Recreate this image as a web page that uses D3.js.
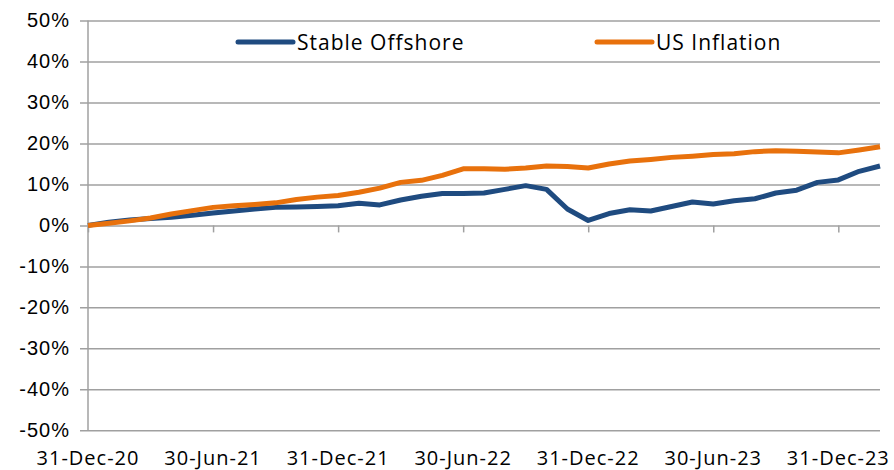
<!DOCTYPE html>
<html>
<head>
<meta charset="utf-8">
<script src="https://cdn.jsdelivr.net/npm/d3@7"></script>
<style>
  body { margin: 0; background: #fff; }
  svg { display: block; font-family: "Open Sans", "Noto Sans", sans-serif; }
</style>
</head>
<body>
<div id="chart"></div>
<script>
// Month-end categories, Dec-20 .. Feb-24
const months = [
    'Dec-20', 'Jan-21', 'Feb-21', 'Mar-21', 'Apr-21', 'May-21', 'Jun-21', 'Jul-21', 'Aug-21', 'Sep-21',
    'Oct-21', 'Nov-21', 'Dec-21', 'Jan-22', 'Feb-22', 'Mar-22', 'Apr-22', 'May-22', 'Jun-22', 'Jul-22',
    'Aug-22', 'Sep-22', 'Oct-22', 'Nov-22', 'Dec-22', 'Jan-23', 'Feb-23', 'Mar-23', 'Apr-23', 'May-23',
    'Jun-23', 'Jul-23', 'Aug-23', 'Sep-23', 'Oct-23', 'Nov-23', 'Dec-23', 'Jan-24', 'Feb-24'
];

// Cumulative returns, %
const stableOffshore = [
    0.0, 0.8, 1.3, 1.7, 2.0, 2.5, 3.0, 3.5, 4.0, 4.4,
    4.5, 4.6, 4.8, 5.4, 5.0, 6.2, 7.1, 7.8, 7.8, 7.9,
    8.8, 9.7, 8.8, 4.0, 1.2, 2.9, 3.8, 3.5, 4.6, 5.7,
    5.2, 6.0, 6.5, 7.9, 8.6, 10.5, 11.1, 13.2, 14.5
];
const usInflation = [
    0.0, 0.5, 1.1, 1.8, 2.8, 3.6, 4.4, 4.8, 5.1, 5.5,
    6.3, 6.9, 7.3, 8.1, 9.1, 10.5, 11.0, 12.2, 13.8, 13.8,
    13.7, 14.0, 14.5, 14.4, 14.0, 15.0, 15.7, 16.1, 16.6, 16.9,
    17.3, 17.5, 18.0, 18.2, 18.1, 17.9, 17.7, 18.4, 19.2
];

const tickMonths = ['Dec-20', 'Jun-21', 'Dec-21', 'Jun-22', 'Dec-22', 'Jun-23', 'Dec-23'];
const tickLabels = ['31-Dec-20', '30-Jun-21', '31-Dec-21', '30-Jun-22', '31-Dec-22', '30-Jun-23', '31-Dec-23'];
const yTicks = [-50, -40, -30, -20, -10, 0, 10, 20, 30, 40, 50];

const series = [
    { name: 'Stable Offshore', values: stableOffshore, color: '#1f4b80' },
    { name: 'US Inflation', values: usInflation, color: '#e8710c' }
];

const W = 894, H = 470;
const plot = { left: 88, right: 880, top: 20.5, bottom: 430.3 };
const GRID = '#a0a0a0';

const svg = d3.select('#chart').append('svg')
    .attr('width', W)
    .attr('height', H);

const x = d3.scalePoint()
    .domain(months)
    .range([plot.left, plot.right]);

const y = d3.scaleLinear()
    .domain([-50, 50])
    .range([plot.bottom, plot.top]);

// Gridlines + y axis
const yAxis = d3.axisLeft(y)
    .tickValues(yTicks)
    .tickSize(-(plot.right - plot.left))
    .tickPadding(18)
    .tickFormat(d => d + '%');

const gy = svg.append('g')
    .attr('transform', `translate(${plot.left},0)`)
    .call(yAxis);
gy.select('.domain').remove();
gy.selectAll('.tick line')
    .attr('x1', -8)
    .attr('stroke', GRID)
    .attr('stroke-width', 1.5);
gy.selectAll('.tick text')
    .attr('fill', '#000')
    .style('font-size', '20px')
    .style('letter-spacing', '1px');

// vertical axis line
svg.append('line')
    .attr('x1', plot.left).attr('x2', plot.left)
    .attr('y1', plot.top).attr('y2', plot.bottom)
    .attr('stroke', GRID)
    .attr('stroke-width', 1.5);

// x axis sits on the zero line, labels at the bottom
const xAxis = d3.axisBottom(x)
    .tickValues(tickMonths)
    .tickSize(7)
    .tickFormat('');
const gx = svg.append('g')
    .attr('transform', `translate(0,${y(0)})`)
    .call(xAxis);
gx.select('.domain').remove();
gx.selectAll('.tick line')
    .attr('stroke', GRID)
    .attr('stroke-width', 1.5);

svg.append('g')
    .selectAll('text')
    .data(tickMonths)
    .enter().append('text')
    .attr('x', d => x(d))
    .attr('y', 465)
    .attr('text-anchor', 'middle')
    .style('font-size', '20px')
    .style('letter-spacing', '1px')
    .text((d, i) => tickLabels[i]);

// Lines
const line = d3.line()
    .x((d, i) => x(months[i]))
    .y(d => y(d));

svg.append('g')
    .selectAll('path')
    .data(series)
    .enter().append('path')
    .attr('fill', 'none')
    .attr('stroke', d => d.color)
    .attr('stroke-width', 5)
    .attr('stroke-linejoin', 'round')
    .attr('d', d => line(d.values));

// Legend
const legendPos = [238, 597];
const legend = svg.append('g')
    .selectAll('g')
    .data(series)
    .enter().append('g')
    .attr('transform', (d, i) => `translate(${legendPos[i]},42)`);

legend.append('line')
    .attr('x1', 0).attr('x2', 55)
    .attr('stroke', d => d.color)
    .attr('stroke-width', 5)
    .attr('stroke-linecap', 'round');

legend.append('text')
    .attr('x', 59)
    .attr('y', 8)
    .style('font-size', '21px')
    .style('letter-spacing', '1px')
    .text(d => d.name);
</script>
</body>
</html>
